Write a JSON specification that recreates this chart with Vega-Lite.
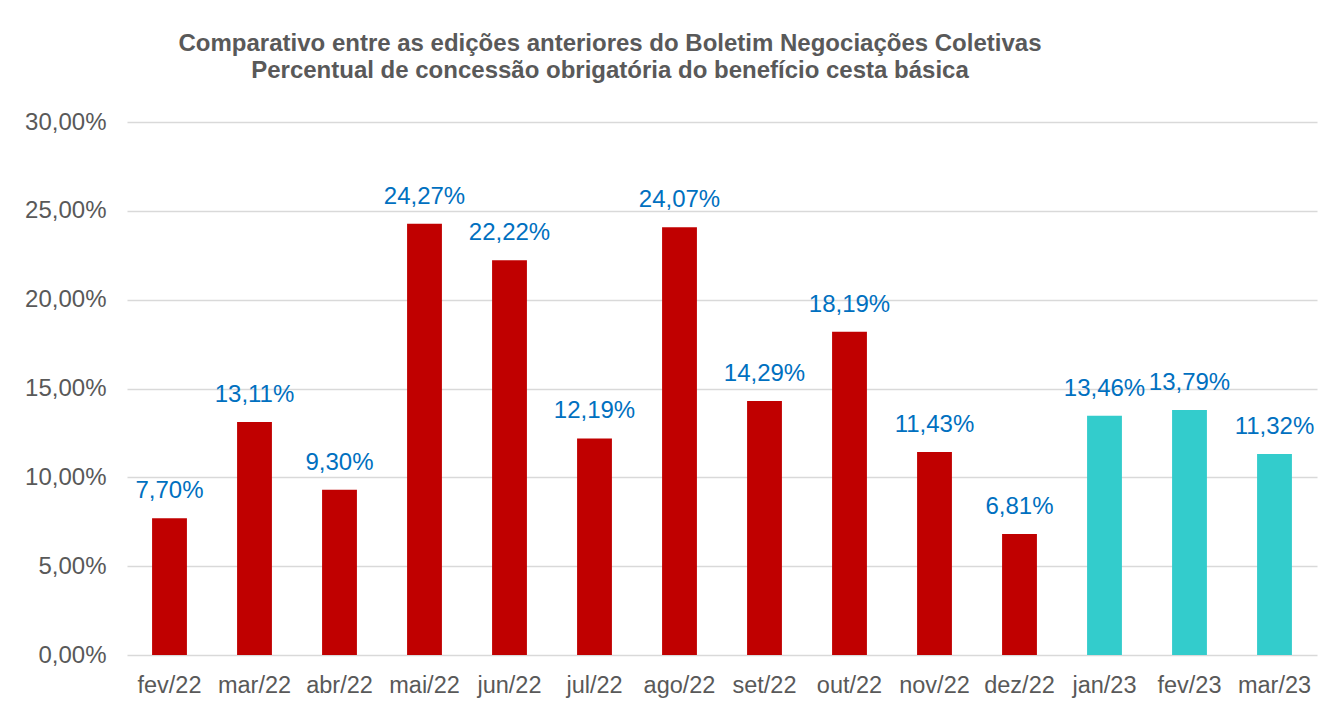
{
  "$schema": "https://vega.github.io/schema/vega-lite/v6.json",
  "width": 1190,
  "height": 533,
  "autosize": {"type": "none"},
  "padding": {"left": 127, "top": 122, "right": 17, "bottom": 49},
  "background": "white",
  "config": {
    "font": "Liberation Sans",
    "view": {"stroke": null},
    "locale": {
      "number": {"decimal": ",", "thousands": ".", "grouping": [3], "currency": ["R$", ""]}
    }
  },
  "title": {
    "text": ["Comparativo entre as edições anteriores do Boletim Negociações Coletivas", "Percentual de concessão obrigatória do benefício cesta básica"],
    "font": "Liberation Sans",
    "fontSize": 24,
    "fontWeight": "bold",
    "color": "#595959",
    "anchor": "middle",
    "dx": -112,
    "offset": 27,
    "lineHeight": 27
  },
  "data": {
    "values": [
      {"mes": "fev/22", "valor": 0.0770, "ano": "2022"},
      {"mes": "mar/22", "valor": 0.1311, "ano": "2022"},
      {"mes": "abr/22", "valor": 0.0930, "ano": "2022"},
      {"mes": "mai/22", "valor": 0.2427, "ano": "2022"},
      {"mes": "jun/22", "valor": 0.2222, "ano": "2022"},
      {"mes": "jul/22", "valor": 0.1219, "ano": "2022"},
      {"mes": "ago/22", "valor": 0.2407, "ano": "2022"},
      {"mes": "set/22", "valor": 0.1429, "ano": "2022"},
      {"mes": "out/22", "valor": 0.1819, "ano": "2022"},
      {"mes": "nov/22", "valor": 0.1143, "ano": "2022"},
      {"mes": "dez/22", "valor": 0.0681, "ano": "2022"},
      {"mes": "jan/23", "valor": 0.1346, "ano": "2023"},
      {"mes": "fev/23", "valor": 0.1379, "ano": "2023"},
      {"mes": "mar/23", "valor": 0.1132, "ano": "2023"}
    ]
  },
  "encoding": {
    "x": {
      "field": "mes",
      "type": "nominal",
      "sort": null,
      "scale": {"paddingInner": 0.59, "paddingOuter": 0.295},
      "axis": {
        "title": null,
        "labelAngle": 0,
        "labelFont": "Liberation Sans",
        "labelFontSize": 23.5,
        "labelColor": "#595959",
        "labelBaseline": "alphabetic",
        "labelPadding": 37,
        "ticks": false,
        "domain": false,
        "grid": false
      }
    },
    "y": {
      "field": "valor",
      "type": "quantitative",
      "scale": {"domain": [0, 0.30], "nice": false},
      "axis": {
        "title": null,
        "values": [0, 0.05, 0.10, 0.15, 0.20, 0.25, 0.30],
        "format": ".2%",
        "labelFont": "Liberation Sans",
        "labelFontSize": 24,
        "labelColor": "#595959",
        "labelPadding": 21,
        "ticks": false,
        "domain": false,
        "grid": true,
        "gridColor": "#d9d9d9",
        "gridWidth": 1.5
      }
    }
  },
  "layer": [
    {
      "mark": {"type": "bar"},
      "encoding": {
        "color": {
          "field": "ano",
          "type": "nominal",
          "scale": {"domain": ["2022", "2023"], "range": ["#C00000", "#33CCCC"]},
          "legend": null
        }
      }
    },
    {
      "mark": {"type": "text", "baseline": "alphabetic", "dy": -20, "fontSize": 24, "color": "#0070C0", "font": "Liberation Sans"},
      "encoding": {
        "text": {"field": "valor", "type": "quantitative", "format": ".2%"}
      }
    }
  ]
}
